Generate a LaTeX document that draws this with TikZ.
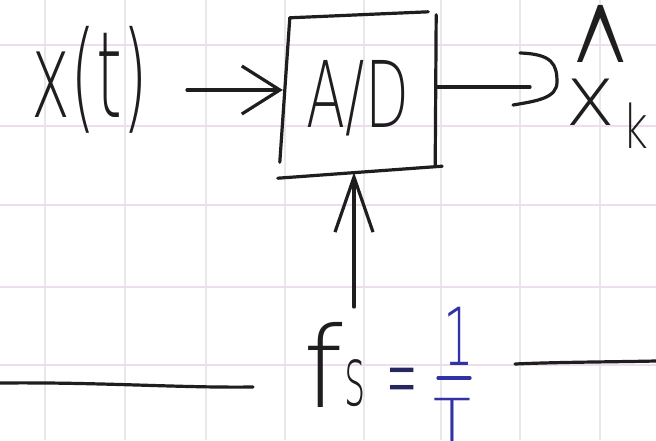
\documentclass[tikz,border=0pt]{standalone}
\usepackage{fontspec}
\newfontfamily\hand{DejaVu Sans ExtraLight}
\usetikzlibrary{arrows.meta}
\definecolor{ink}{HTML}{1E1E1E}
\definecolor{blueink}{HTML}{3232A6}
\definecolor{navyink}{HTML}{262660}
\definecolor{gridvc}{HTML}{E8E8E8}
\definecolor{gridhc}{HTML}{EEDDEC}
\newcommand{\handhat}{{\fontsize{120}{120}\selectfont\raisebox{72pt}{\scalebox{0.66}[1.75]{\raisebox{-0.5em}[0.2em][0pt]{\textasciicircum}}}}}
\begin{document}
\begin{tikzpicture}[x=1pt,y=-1pt,
  pen/.style={line width=3.2pt, draw=ink, line cap=round, line join=round},
  bluepen/.style={line width=3.2pt, draw=blueink, line cap=round},
  vline/.style={line width=1.2pt, draw=gridvc},
  hline/.style={line width=1.2pt, draw=gridhc},
  hw/.style={inner sep=0pt, anchor=base, text=ink, font=\hand\fontsize{#1}{#1}\selectfont},
  boxstyle/.style={minimum width=154pt, minimum height=156pt, inner sep=0pt},
  intip/.style={-{Straight Barb[length=38pt,width=48pt]}},
  uptip/.style={-{Straight Barb[length=55pt,width=38pt]}}
]
\path[use as bounding box] (0,0) rectangle (656,440);
\clip (0,0) rectangle (656,440);
\fill[white] (0,0) rectangle (656,440);
\foreach \gx in {45,125,206,285,364,441,520,600} \draw[vline] (\gx,0) -- (\gx,440);
\foreach \gy in {45,126,205,287,365} \draw[hline] (0,\gy) -- (656,\gy);

% nodes
\node[hw=120] (xt) at (90,117) {\scalebox{0.55}[1]{x(t)}};
\node[boxstyle] (ad) at (360,94) {};
\node[hw=92] (adl) at (358,127) {\scalebox{0.62}[1]{A/D}};
\node[hw=85, anchor=base west] (xk) at (565,125)
  {\rlap{\hspace{2pt}\handhat}x\hspace{7pt}\raisebox{-23pt}{\fontsize{60}{60}\selectfont\scalebox{0.75}[1]{k}}};
\node[hw=112] (ff) at (323,407) {f};
\node[hw=82] (fs) at (355,405) {\scalebox{0.5}[1]{s}};
\node[hw=110, text=navyink] (eq) at (402,413) {\scalebox{0.34}[1]{=}};
\node[hw=80, text=blueink] (one) at (459,365) {\scalebox{0.6}[1]{1}};
\node[hw=62, text=blueink] (tt) at (452,443) {T};

% hand-drawn outline of the A/D box
\draw[pen] ([shift={(7,2)}]ad.north west) -- ([shift={(-9,-4)}]ad.north east);
\draw[pen] ([shift={(7,2)}]ad.north west) -- ([shift={(-3,-10)}]ad.south west);
\draw[pen] ([shift={(-1,-1)}]ad.north east) -- ([shift={(-2,-6)}]ad.south east);
\draw[pen] ([shift={(-5,6)}]ad.south west) -- ([shift={(5,-6)}]ad.south east);

% connectors
\coordinate (inA) at (187,90);
\draw[pen, intip] (inA) -- (ad.west |- inA);
\coordinate (outy) at (0,87);
\draw[pen, shorten >=35pt] (ad.east |- outy) -- (xk.west |- outy);
\coordinate (otip) at (557,82);
\draw[pen] (otip) ++(-37,-29) .. controls +(32,1) and +(0,-18) .. (otip)
  .. controls +(0,16) and +(24,-4) .. ++(-44,23);
\coordinate (fsA) at (354,307);
\draw[pen, uptip] (fsA) -- (ad.south -| fsA);

% fraction bar
\draw[bluepen] (438,378) -- (470,378);

% hand-drawn rules
\draw[pen] (0,383) .. controls (100,382) and (180,388) .. (253,387);
\draw[pen] (515,364) .. controls (560,362) and (610,362) .. (656,361);
\end{tikzpicture}
\end{document}
